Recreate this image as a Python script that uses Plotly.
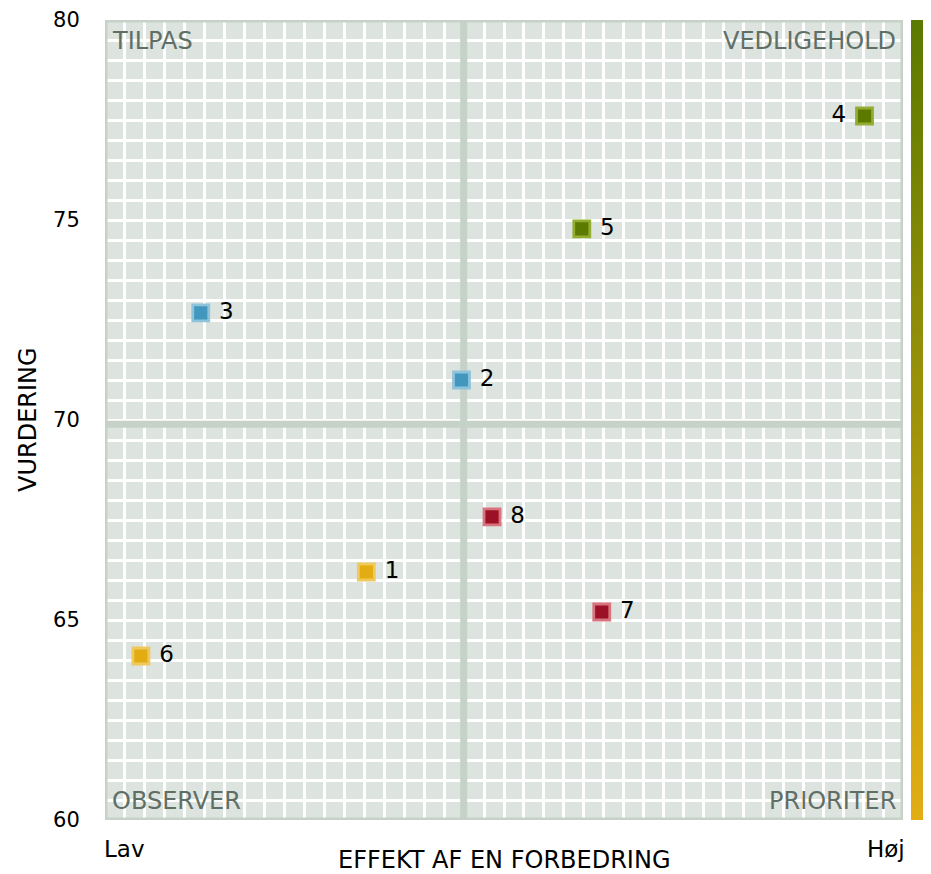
import plotly.graph_objects as go

# ---- data ----
ids = ["1", "2", "3", "4", "5", "6", "7", "8"]
effekt = [13.1, 17.87, 4.8, 38.07, 23.9, 1.8, 24.9, 19.4]
vurdering = [66.2, 71.0, 72.68, 77.6, 74.78, 64.1, 65.2, 67.58]
quadrant_labels = ["TILPAS", "VEDLIGEHOLD", "OBSERVER", "PRIORITER"]
x_tick_labels = ["Lav", "Høj"]
y_ticks = [60, 65, 70, 75, 80]
x_title = "EFFEKT AF EN FORBEDRING"
y_title = "VURDERING"

X_MIN, X_MAX = 0, 40
Y_MIN, Y_MAX = 60, 80
FONT = "DejaVu Sans"

x_mid = sum(effekt) / len(effekt)
y_mid = sum(vurdering) / len(vurdering)

# quadrant colours
fill = {"TILPAS": "#4197bd", "VEDLIGEHOLD": "#5c7a00",
        "OBSERVER": "#e2ac12", "PRIORITER": "#9b1226"}
edge = {"TILPAS": "#8ec3db", "VEDLIGEHOLD": "#93ad30",
        "OBSERVER": "#f0c95c", "PRIORITER": "#d9747e"}


def quad(x, y):
    if y >= y_mid:
        return "TILPAS" if x < x_mid else "VEDLIGEHOLD"
    return "OBSERVER" if x < x_mid else "PRIORITER"


qs = [quad(x, y) for x, y in zip(effekt, vurdering)]
positions = ["middle left" if x > X_MAX - 4 else "middle right" for x in effekt]
texts = [(" " + t) if p == "middle right" else (t + " ") for t, p in zip(ids, positions)]

fig = go.Figure()
fig.add_trace(go.Scatter(
    x=effekt, y=vurdering, mode="markers+text",
    text=texts, textposition=positions,
    textfont=dict(family=FONT, size=23, color="#000000"),
    marker=dict(symbol="square", size=16,
                color=[fill[q] for q in qs],
                line=dict(color=[edge[q] for q in qs], width=2.8)),
    hoverinfo="skip", showlegend=False, cliponaxis=False,
))

# colour bar (gradient strip)
fig.add_trace(go.Scatter(
    x=[None], y=[None], mode="markers", showlegend=False, hoverinfo="skip",
    marker=dict(color=[0, 1], cmin=0, cmax=1,
                colorscale=[[0, "#e2ad15"], [1, "#5b7900"]],
                showscale=True,
                colorbar=dict(thickness=19, len=1, lenmode="fraction",
                              x=1.0105, xanchor="left", y=0.5, yanchor="middle",
                              outlinewidth=0, showticklabels=False, ticks="",
                              xpad=0, ypad=0)),
))

border_col = "#c6d2c7"
fig.add_shape(type="line", x0=x_mid, x1=x_mid, y0=Y_MIN, y1=Y_MAX,
              line=dict(color=border_col, width=7), layer="between")
fig.add_shape(type="line", x0=X_MIN, x1=X_MAX, y0=y_mid, y1=y_mid,
              line=dict(color=border_col, width=7), layer="between")
fig.add_shape(type="rect", x0=X_MIN, x1=X_MAX, y0=Y_MIN, y1=Y_MAX,
              line=dict(color=border_col, width=5), layer="between")

qcol = "#5f6f66"
qfont = dict(family=FONT, size=24, color=qcol)
tfont = dict(family=FONT, size=23, color="#000")
xtfont = dict(family=FONT, size=24, color="#000")
ann = [
    dict(x=0, y=1, xref="paper", yref="paper", text=quadrant_labels[0],
         xanchor="left", yanchor="top", xshift=5, yshift=-5, showarrow=False, font=qfont),
    dict(x=1, y=1, xref="paper", yref="paper", text=quadrant_labels[1],
         xanchor="right", yanchor="top", xshift=-5, yshift=-5, showarrow=False, font=qfont),
    dict(x=0, y=0, xref="paper", yref="paper", text=quadrant_labels[2],
         xanchor="left", yanchor="bottom", xshift=5, yshift=3, showarrow=False, font=qfont),
    dict(x=1, y=0, xref="paper", yref="paper", text=quadrant_labels[3],
         xanchor="right", yanchor="bottom", xshift=-5, yshift=3, showarrow=False, font=qfont),
    dict(x=0, y=0, xref="paper", yref="paper", text=x_tick_labels[0],
         xanchor="left", yanchor="top", xshift=-3, yshift=-14, showarrow=False, font=tfont),
    dict(x=1, y=0, xref="paper", yref="paper", text=x_tick_labels[1],
         xanchor="right", yanchor="top", xshift=4, yshift=-14, showarrow=False, font=tfont),
    dict(x=0.5, y=0, xref="paper", yref="paper", text=x_title,
         xanchor="center", yanchor="top", yshift=-24, showarrow=False, font=xtfont),
    dict(x=0, y=0.5, xref="paper", yref="paper", text=y_title, textangle=-90,
         xanchor="center", yanchor="middle", xshift=-77, showarrow=False, font=xtfont),
]

fig.update_layout(
    width=923, height=866,
    margin=dict(l=97, r=28, t=12, b=54, autoexpand=False),
    paper_bgcolor="white", plot_bgcolor="#dde3df",
    font=dict(family=FONT, size=20, color="#000"),
    annotations=ann,
    xaxis=dict(range=[X_MIN, X_MAX], dtick=1, tick0=0, showgrid=True,
               gridcolor="white", gridwidth=3, showticklabels=False,
               zeroline=False, showline=False, ticks=""),
    yaxis=dict(range=[Y_MIN, Y_MAX], tickvals=y_ticks, showgrid=True,
               gridcolor="white", gridwidth=3, zeroline=False, showline=False,
               ticks="outside", ticklen=20, tickcolor="rgba(0,0,0,0)",
               tickfont=dict(family=FONT, size=21, color="#000"),
               minor=dict(dtick=0.5, tick0=60, showgrid=True, gridcolor="white",
                          gridwidth=3, ticks="")),
)

fig.write_html("out.html")
